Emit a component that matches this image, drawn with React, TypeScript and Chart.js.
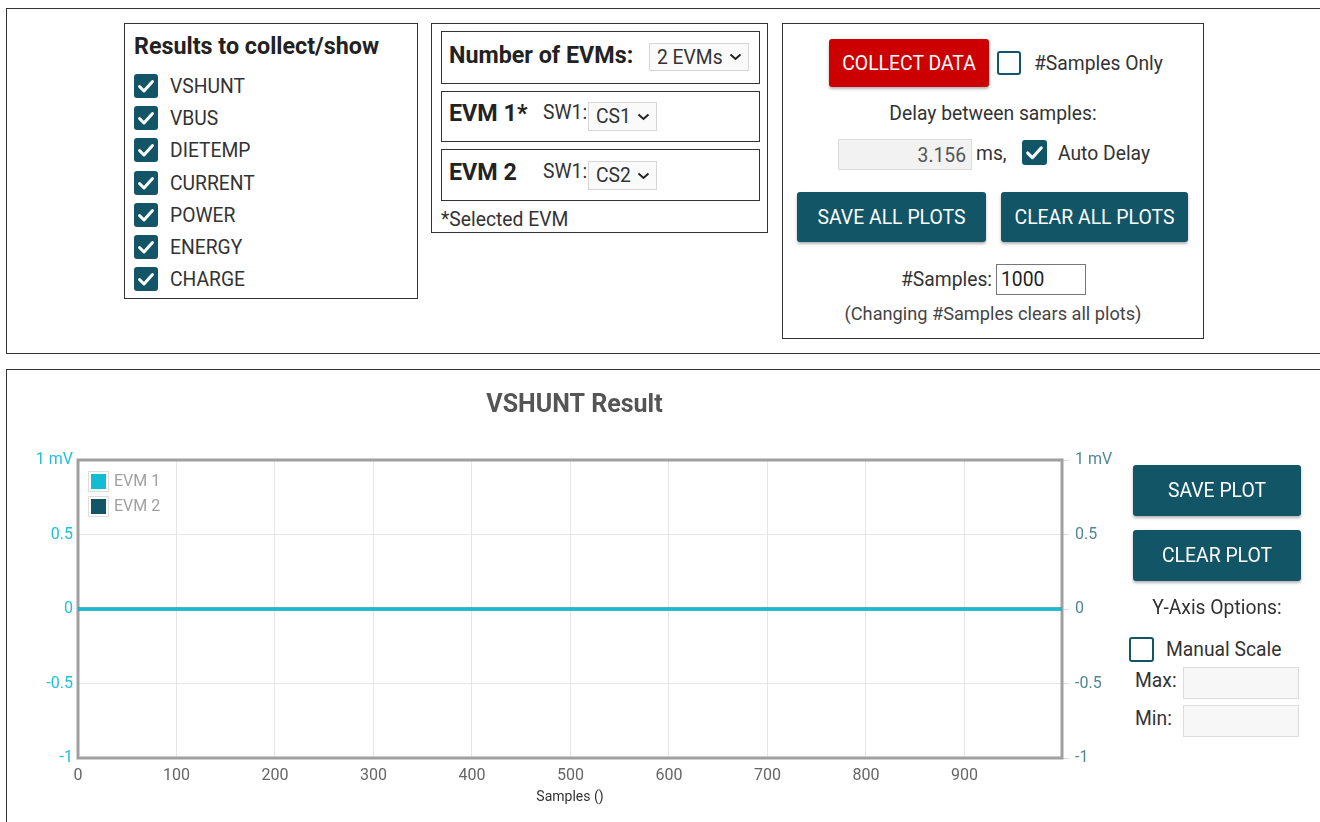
import React, { useEffect, useRef } from "react";
import { Chart, registerables } from "chart.js";

Chart.register(...registerables);

// ---- data ----
const seriesLabels = ["EVM 1", "EVM 2"];
const seriesColors = ["#12bdd3", "#115566"];
const sampleIndex = [0, 999];
const evm1Values = [0, 0];
const evm2Values = [0, 0];
const xTickValues = [0, 100, 200, 300, 400, 500, 600, 700, 800, 900];
const yTickValues = [-1, -0.5, 0, 0.5, 1];
const yTickLabels = ["-1", "-0.5", "0", "0.5", "1 mV"];
const chartTitle = "VSHUNT Result";
const xAxisTitle = "Samples ()";

const FONT = "Roboto, 'Noto Sans', sans-serif";
const TEAL = "#115566";
const REG = 19.3;
const BOLD = 23.3;

const abs = (left: number, top: number, extra: React.CSSProperties = {}): React.CSSProperties => ({
  position: "absolute",
  left,
  top,
  ...extra,
});

function CheckBox({ x, y, size = 24, checked }: { x: number; y: number; size?: number; checked: boolean }) {
  return (
    <div
      style={abs(x, y, {
        width: size,
        height: size,
        boxSizing: "border-box",
        borderRadius: 3,
        background: checked ? TEAL : "#fff",
        border: checked ? "none" : `2px solid ${TEAL}`,
      })}
    >
      {checked && (
        <svg width={size} height={size} viewBox="0 0 24 24" style={{ position: "absolute", left: 0, top: 0 }}>
          <path d="M5.5 12.5 L10 17 L18.5 7.5" stroke="#fff" strokeWidth="3" fill="none" strokeLinecap="round" strokeLinejoin="round" />
        </svg>
      )}
    </div>
  );
}

function Text({ x, y, children, size = REG, bold = false, color = "#333", align = "left" }: any) {
  const style: React.CSSProperties = {
    position: "absolute",
    top: y + 1 - size * 0.6,
    height: size * 1.2,
    lineHeight: `${size * 1.2}px`,
    fontSize: size,
    fontWeight: bold ? 700 : 400,
    color,
    whiteSpace: "nowrap",
    fontFamily: FONT,
  };
  if (align === "center") {
    style.left = x - 300;
    style.width = 600;
    style.textAlign = "center";
  } else if (align === "right") {
    style.left = x - 600;
    style.width = 600;
    style.textAlign = "right";
  } else {
    style.left = x;
  }
  return <div style={style}>{children}</div>;
}

function Button({ x, y, w, h, label, bg = TEAL }: any) {
  return (
    <div
      style={abs(x, y, {
        width: w,
        height: h,
        background: bg,
        borderRadius: 3,
        color: "#fff",
        fontSize: 19.4,
        fontFamily: FONT,
        display: "flex",
        alignItems: "center",
        justifyContent: "center",
        boxShadow: "0 2px 3px rgba(0,0,0,0.3)",
        whiteSpace: "nowrap",
      })}
    >
      {label}
    </div>
  );
}

function Select({ x, y, w, h, label }: any) {
  return (
    <div
      style={abs(x, y, {
        width: w,
        height: h,
        boxSizing: "border-box",
        border: "1px solid #d6d6d6",
        background: "#fafafa",
        fontFamily: FONT,
        fontSize: REG,
        color: "#333",
        display: "flex",
        alignItems: "center",
        paddingLeft: 7,
      })}
    >
      <span>{label}</span>
      <svg width="13" height="8" viewBox="0 0 13 8" style={{ marginLeft: 6 }}>
        <path d="M1.5 1.5 L6.5 6 L11.5 1.5" stroke="#222" strokeWidth="2" fill="none" />
      </svg>
    </div>
  );
}

function Box({ x, y, w, h, border = "1px solid #333" }: any) {
  return <div style={abs(x, y, { width: w, height: h, border, boxSizing: "border-box" })} />;
}

const insideLegend = {
  id: "insideLegend",
  afterDatasetsDraw(chart: any) {
    const { ctx, chartArea } = chart;
    ctx.save();
    chart.data.datasets.forEach((ds: any, i: number) => {
      const sx = chartArea.left + 13;
      const sy = chartArea.top + 14 + i * 25;
      ctx.fillStyle = "rgba(255,255,255,0.85)";
      ctx.fillRect(sx - 3, sy - 3, 66, 21);
      ctx.strokeStyle = "#dddddd";
      ctx.lineWidth = 1;
      ctx.strokeRect(sx - 2.5, sy - 2.5, 20, 20);
      ctx.fillStyle = ds.borderColor;
      ctx.fillRect(sx, sy, 15, 15);
      ctx.fillStyle = "#a0a0a0";
      ctx.font = `16px ${FONT}`;
      ctx.textBaseline = "middle";
      ctx.textAlign = "left";
      ctx.fillText(ds.label, sx + 23, sy + 8);
    });
    ctx.restore();
  },
};

const plotFrame = {
  id: "plotFrame",
  beforeDatasetsDraw(chart: any) {
    const { ctx, chartArea } = chart;
    ctx.save();
    ctx.strokeStyle = "#a0a0a0";
    ctx.lineWidth = 3;
    ctx.strokeRect(chartArea.left, chartArea.top, chartArea.right - chartArea.left, chartArea.bottom - chartArea.top);
    ctx.restore();
  },
};

function VshuntChart() {
  const ref = useRef<HTMLCanvasElement>(null);
  useEffect(() => {
    if (!ref.current) return;
    Chart.defaults.font.family = FONT;
    const yLabel = (v: any) => {
      const i = yTickValues.indexOf(Number(v));
      return i >= 0 ? yTickLabels[i] : "";
    };
    const chart = new Chart(ref.current, {
      type: "line",
      data: {
        datasets: [
          {
            label: seriesLabels[0],
            data: sampleIndex.map((x, i) => ({ x, y: evm1Values[i] })),
            borderColor: seriesColors[0],
            backgroundColor: seriesColors[0],
            borderWidth: 3,
            pointRadius: 0,
            yAxisID: "y",
          },
          {
            label: seriesLabels[1],
            data: sampleIndex.map((x, i) => ({ x, y: evm2Values[i] })),
            borderColor: seriesColors[1],
            backgroundColor: seriesColors[1],
            borderWidth: 3,
            pointRadius: 0,
            yAxisID: "y",
          },
        ],
      },
      options: {
        animation: false,
        responsive: false,
        devicePixelRatio: 1,
        layout: { padding: 0 },
        plugins: {
          legend: { display: false },
          tooltip: { enabled: false },
          title: {
            display: true,
            text: chartTitle,
            color: "#555",
            font: { size: 25, weight: "bold", family: FONT },
            padding: { top: 10.5, bottom: 39.5 },
          },
        },
        scales: {
          x: {
            type: "linear",
            min: 0,
            max: 999,
            afterBuildTicks: (s: any) => {
              s.ticks = xTickValues.map((v) => ({ value: v }));
            },
            afterFit: (s: any) => {
              s.height = 52;
            },
            ticks: { color: "#666", font: { size: 16 }, padding: 8, maxRotation: 0 },
            grid: { color: "#e6e6e6", drawTicks: false },
            border: { display: false },
            title: { display: true, text: xAxisTitle, color: "#333", font: { size: 14 }, padding: 4 },
          },
          y: {
            type: "linear",
            position: "left",
            min: -1,
            max: 1,
            afterBuildTicks: (s: any) => {
              s.ticks = yTickValues.map((v) => ({ value: v }));
            },
            afterFit: (s: any) => {
              s.width = 58;
            },
            ticks: { color: "#22c0d6", font: { size: 16 }, padding: 5, callback: yLabel },
            grid: { color: "#e6e6e6", drawTicks: false },
            border: { display: false },
          },
          y2: {
            type: "linear",
            position: "right",
            min: -1,
            max: 1,
            afterBuildTicks: (s: any) => {
              s.ticks = yTickValues.map((v) => ({ value: v }));
            },
            afterFit: (s: any) => {
              s.width = 67;
            },
            ticks: { color: "#4f8794", font: { size: 16 }, padding: 6, callback: yLabel },
            grid: { color: "#dddddd", drawOnChartArea: false, drawTicks: true, tickLength: 7 },
            border: { display: false },
          },
        },
      },
      plugins: [plotFrame, insideLegend],
    } as any);
    return () => chart.destroy();
  }, []);
  return <canvas ref={ref} width={1109} height={430} style={abs(20, 380, { width: 1109, height: 430 })} />;
}

const resultItems = ["VSHUNT", "VBUS", "DIETEMP", "CURRENT", "POWER", "ENERGY", "CHARGE"];
const resultRowsY = [86, 118, 150, 183, 215, 247, 279];

export default function App() {
  return (
    <div style={{ position: "absolute", left: 0, top: 0, width: 1320, height: 822, overflow: "hidden", background: "#fff", fontFamily: FONT }}>
      {/* top panel */}
      <Box x={6} y={8} w={1330} h={346} />
      {/* results */}
      <Box x={124} y={23} w={294} h={276} />
      <Text x={134} y={46} size={BOLD} bold color="#222">Results to collect/show</Text>
      {resultItems.map((t, i) => (
        <React.Fragment key={t}>
          <CheckBox x={134} y={resultRowsY[i] - 12} checked />
          <Text x={170} y={resultRowsY[i]}>{t}</Text>
        </React.Fragment>
      ))}
      {/* EVMs */}
      <Box x={431} y={23} w={337} h={210} />
      <Box x={441} y={31} w={319} h={53} />
      <Text x={449} y={55} size={BOLD} bold color="#222">Number of EVMs:</Text>
      <Select x={649} y={43} w={100} h={28} label="2 EVMs" />
      <Box x={441} y={91} w={319} h={51} />
      <Text x={449} y={113} size={BOLD} bold color="#222">EVM 1*</Text>
      <Text x={543} y={112}>SW1:</Text>
      <Select x={588} y={102} w={69} h={29} label="CS1" />
      <Box x={441} y={149} w={319} h={52} />
      <Text x={449} y={172} size={BOLD} bold color="#222">EVM 2</Text>
      <Text x={543} y={171}>SW1:</Text>
      <Select x={588} y={161} w={69} h={29} label="CS2" />
      <Text x={441} y={219}>*Selected EVM</Text>
      {/* collect */}
      <Box x={782} y={23} w={422} h={316} />
      <Button x={829} y={39} w={160} h={48} label="COLLECT DATA" bg="#cc0000" />
      <CheckBox x={997} y={51} size={24} checked={false} />
      <Text x={1034} y={63}>#Samples Only</Text>
      <Text x={993} y={113} align="center">Delay between samples:</Text>
      <div style={abs(838, 139, { width: 134, height: 31, boxSizing: "border-box", background: "#f2f2f2", border: "1px solid #dcdcdc", fontSize: REG, color: "#555", textAlign: "right", lineHeight: "31px", paddingRight: 5 })}>3.156</div>
      <Text x={976} y={153}>ms,</Text>
      <CheckBox x={1022} y={140} size={25} checked />
      <Text x={1058} y={153}>Auto Delay</Text>
      <Button x={797} y={192} w={189} h={50} label="SAVE ALL PLOTS" />
      <Button x={1001} y={192} w={187} h={50} label="CLEAR ALL PLOTS" />
      <Text x={992} y={279} align="right">#Samples:</Text>
      <div style={abs(996, 264, { width: 90, height: 31, boxSizing: "border-box", border: "1px solid #777", fontSize: REG, color: "#222", lineHeight: "30px", paddingLeft: 4 })}>1000</div>
      <Text x={993} y={313} size={18.2} align="center" color="#444">(Changing #Samples clears all plots)</Text>

      {/* bottom panel */}
      <Box x={6} y={369} w={1330} h={480} />
      <VshuntChart />
      <Button x={1133} y={465} w={168} h={51} label="SAVE PLOT" />
      <Button x={1133} y={530} w={168} h={51} label="CLEAR PLOT" />
      <Text x={1217} y={607} align="center">Y-Axis Options:</Text>
      <CheckBox x={1129} y={637} size={25} checked={false} />
      <Text x={1166} y={649}>Manual Scale</Text>
      <Text x={1135} y={680}>Max:</Text>
      <div style={abs(1183, 667, { width: 116, height: 32, boxSizing: "border-box", background: "#f7f7f7", border: "1px solid #dcdcdc" })} />
      <Text x={1135} y={718}>Min:</Text>
      <div style={abs(1183, 705, { width: 116, height: 32, boxSizing: "border-box", background: "#f7f7f7", border: "1px solid #dcdcdc" })} />
    </div>
  );
}
